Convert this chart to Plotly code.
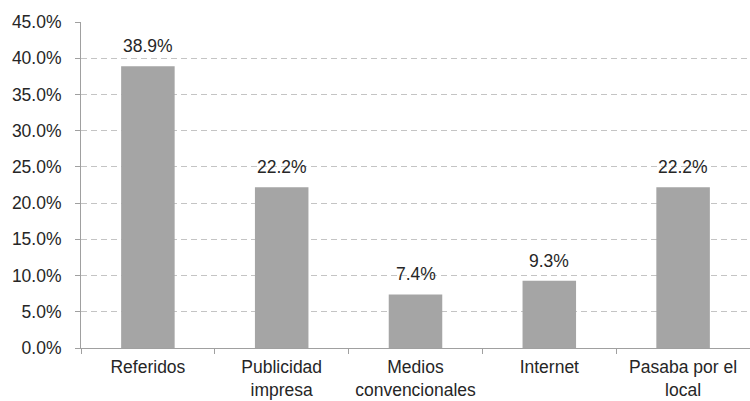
import plotly.graph_objects as go

# Survey: how customers learned about the shop
categories = ["Referidos", "Publicidad<br>impresa", "Medios<br>convencionales",
              "Internet", "Pasaba por el<br>local"]
shares = [0.389, 0.222, 0.074, 0.093, 0.222]
y_ticks = [0, 0.05, 0.10, 0.15, 0.20, 0.25, 0.30, 0.35, 0.40, 0.45]

font_family = "Liberation Sans, Arial, sans-serif"
text_color = "#262626"
font_size = 17.5

fig = go.Figure(
    go.Bar(
        x=categories,
        y=shares,
        marker=dict(color="#a5a5a5", line=dict(width=0)),
        width=0.4,
        hoverinfo="skip",
    )
)

# value labels above each bar
for cat, v in zip(categories, shares):
    fig.add_annotation(
        x=cat, y=v, text=f"{v*100:.1f}%",
        showarrow=False, yanchor="bottom", yshift=8,
        font=dict(size=font_size, color=text_color, family=font_family),
    )

fig.update_layout(
    width=750,
    height=401,
    margin=dict(l=81, r=0, t=22, b=53),
    paper_bgcolor="white",
    plot_bgcolor="white",
    font=dict(family=font_family, size=font_size, color=text_color),
    showlegend=False,
    xaxis=dict(
        automargin=False,
        showline=True,
        linecolor="#a0a0a0",
        linewidth=1,
        ticks="outside",
        tickson="boundaries",
        ticklen=5,
        tickcolor="#a0a0a0",
        showgrid=False,
        ticklabelstandoff=3,
        tickfont=dict(size=font_size, color=text_color),
    ),
    yaxis=dict(
        automargin=False,
        range=[0, 0.45],
        tickvals=y_ticks,
        tickformat=".1%",
        showline=True,
        linecolor="#a0a0a0",
        linewidth=1,
        ticks="outside",
        ticklen=5,
        tickcolor="#a0a0a0",
        showgrid=True,
        gridcolor="#c4c4c4",
        griddash="6px,4px",
        gridwidth=1,
        zeroline=False,
        ticklabelstandoff=10,
        tickfont=dict(size=font_size, color=text_color),
    ),
)

fig.write_html("out.html")
